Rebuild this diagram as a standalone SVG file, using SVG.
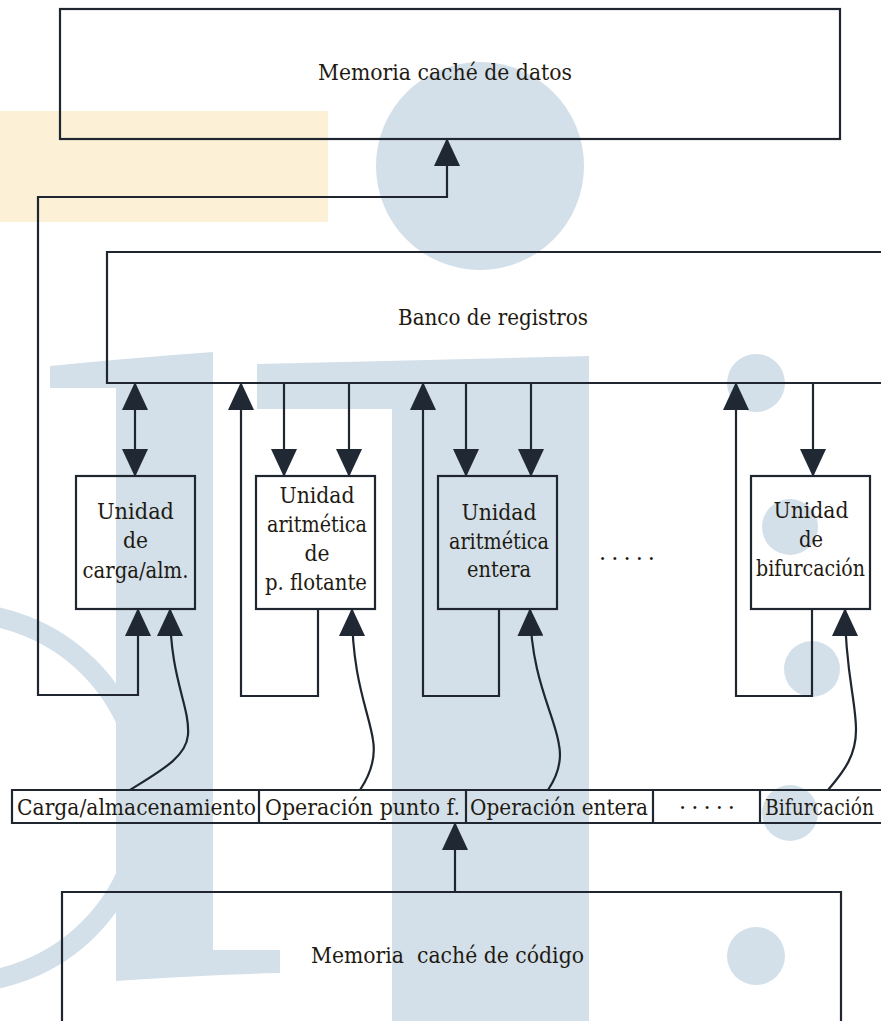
<svg xmlns="http://www.w3.org/2000/svg" width="881" height="1021" viewBox="0 0 881 1021">
  <style>
    .bg-blue { fill: #d3e0ea; }
    .bg-yellow { fill: #fcf1d6; }
    .box { fill: none; stroke: #1f2630; stroke-width: 2.2; }
    .wire { fill: none; stroke: #1f2630; stroke-width: 2.2; }
    .lbl { font-family: "DejaVu Serif", "Liberation Serif", serif; font-size: 22.5px; fill: #1e1a12; }
    .mid { text-anchor: middle; }
  </style>
  <defs>
    <marker id="arrow" markerUnits="userSpaceOnUse" markerWidth="28" markerHeight="26" viewBox="0 0 28 26" refX="27" refY="13" orient="auto-start-reverse">
      <path d="M0,0 L28,13 L0,26 Z" fill="#1f2833"/>
    </marker>
  </defs>

  <!-- background decoration -->
  <g id="background">
    <rect class="bg-yellow" x="0" y="111" width="328" height="111"/>
    <circle class="bg-blue" cx="480" cy="166" r="104"/>
    <circle cx="-42" cy="798" r="185" fill="none" stroke="#d3e0ea" stroke-width="20"/>
    <path class="bg-blue" d="M50,366 Q130,358 213,352 L213,950 L280,950 L280,973 Q200,975 116,981 L116,388 L50,388 Z"/>
    <path class="bg-blue" d="M257,364 Q420,360 589,356 L589,1021 L392,1021 L392,409 L257,409 Z"/>
    <circle class="bg-blue" cx="756" cy="383" r="29"/>
    <circle class="bg-blue" cx="790" cy="527" r="28"/>
    <circle class="bg-blue" cx="812" cy="669" r="28"/>
    <circle class="bg-blue" cx="790" cy="813" r="28"/>
    <circle class="bg-blue" cx="756" cy="956" r="29"/>
  </g>

  <g id="data-cache">
    <rect class="box" x="60" y="9" width="780" height="130"/>
    <text class="lbl mid" x="445" y="80" textLength="254" lengthAdjust="spacingAndGlyphs">Memoria caché de datos</text>
  </g>

  <g id="register-bank">
    <path class="box" d="M881,252 L107,252 L107,383 L881,383"/>
    <text class="lbl mid" x="493" y="325" textLength="190" lengthAdjust="spacingAndGlyphs">Banco de registros</text>
  </g>

  <g id="load-store-unit">
    <rect class="box" x="76" y="476" width="119" height="133"/>
    <text class="lbl mid" x="135.5" y="519" textLength="77" lengthAdjust="spacingAndGlyphs">Unidad</text>
    <text class="lbl mid" x="135.5" y="548" textLength="25" lengthAdjust="spacingAndGlyphs">de</text>
    <text class="lbl mid" x="135.5" y="578" textLength="106" lengthAdjust="spacingAndGlyphs">carga/alm.</text>
  </g>

  <g id="fp-unit">
    <rect class="box" x="256" y="476" width="119" height="133"/>
    <text class="lbl mid" x="317" y="503" textLength="75" lengthAdjust="spacingAndGlyphs">Unidad</text>
    <text class="lbl mid" x="317" y="532" textLength="100" lengthAdjust="spacingAndGlyphs">aritmética</text>
    <text class="lbl mid" x="317" y="561" textLength="25" lengthAdjust="spacingAndGlyphs">de</text>
    <text class="lbl mid" x="316" y="590" textLength="102" lengthAdjust="spacingAndGlyphs">p. flotante</text>
  </g>

  <g id="int-unit">
    <rect class="box" x="438" y="476" width="119" height="133"/>
    <text class="lbl mid" x="499" y="520" textLength="75" lengthAdjust="spacingAndGlyphs">Unidad</text>
    <text class="lbl mid" x="499" y="549" textLength="100" lengthAdjust="spacingAndGlyphs">aritmética</text>
    <text class="lbl mid" x="499" y="577" textLength="64" lengthAdjust="spacingAndGlyphs">entera</text>
  </g>

  <g id="more-units">
    <text class="lbl mid" x="627" y="560" textLength="56" lengthAdjust="spacing">. . . . .</text>
  </g>

  <g id="branch-unit">
    <rect class="box" x="751" y="476" width="119" height="133"/>
    <text class="lbl mid" x="811" y="518" textLength="75" lengthAdjust="spacingAndGlyphs">Unidad</text>
    <text class="lbl mid" x="811" y="547" textLength="24" lengthAdjust="spacingAndGlyphs">de</text>
    <text class="lbl mid" x="810.5" y="576" textLength="109" lengthAdjust="spacingAndGlyphs">bifurcación</text>
  </g>

  <g id="instruction-word">
    <path class="box" d="M881,790 L12,790 L12,823 L881,823"/>
    <path class="box" d="M259,790 V823 M466,790 V823 M653,790 V823 M760,790 V823"/>
    <text class="lbl" x="17" y="815" textLength="239" lengthAdjust="spacingAndGlyphs">Carga/almacenamiento</text>
    <text class="lbl" x="265" y="815" textLength="195" lengthAdjust="spacingAndGlyphs">Operación punto f.</text>
    <text class="lbl" x="470" y="815" textLength="178" lengthAdjust="spacingAndGlyphs">Operación entera</text>
    <text class="lbl mid" x="707" y="809" textLength="56" lengthAdjust="spacing">. . . . .</text>
    <text class="lbl" x="765" y="815" textLength="109" lengthAdjust="spacingAndGlyphs">Bifurcación</text>
  </g>

  <g id="code-cache">
    <path class="box" d="M62,1021 L62,892 L841,892 L841,1021"/>
    <text class="lbl mid" x="447.5" y="963" textLength="273" lengthAdjust="spacingAndGlyphs" xml:space="preserve">Memoria  caché de código</text>
  </g>

  <g id="connectors">
    <!-- load/store unit <-> register bank -->
    <path class="wire" d="M135,383 L135,476" marker-start="url(#arrow)" marker-end="url(#arrow)"/>
    <!-- load/store unit <-> data cache -->
    <path class="wire" d="M138,609 L138,695 L38,695 L38,197 L447,197 L447,139" marker-start="url(#arrow)" marker-end="url(#arrow)"/>
    <!-- register bank -> FP unit operands -->
    <path class="wire" d="M284,383 L284,476" marker-end="url(#arrow)"/>
    <path class="wire" d="M349,383 L349,476" marker-end="url(#arrow)"/>
    <!-- FP unit result -> register bank -->
    <path class="wire" d="M318,609 L318,696 L241,696 L241,383" marker-end="url(#arrow)"/>
    <!-- register bank -> integer unit operands -->
    <path class="wire" d="M466,383 L466,476" marker-end="url(#arrow)"/>
    <path class="wire" d="M531,383 L531,476" marker-end="url(#arrow)"/>
    <!-- integer unit result -> register bank -->
    <path class="wire" d="M499,609 L499,696 L423,696 L423,383" marker-end="url(#arrow)"/>
    <!-- register bank -> branch unit -->
    <path class="wire" d="M813,383 L813,476" marker-end="url(#arrow)"/>
    <!-- branch unit result -> register bank -->
    <path class="wire" d="M812,609 L812,696 L736,696 L736,383" marker-end="url(#arrow)"/>
    <!-- instruction fields -> units -->
    <path class="wire" d="M130,790 C162,770 186,757 188,735 C190,705 170,680 170,609" marker-end="url(#arrow)"/>
    <path class="wire" d="M360,790 C370,775 376,758 373,740 C369,712 352,680 352,609" marker-end="url(#arrow)"/>
    <path class="wire" d="M548,790 C558,775 562,760 559,745 C555,715 531,680 530,609" marker-end="url(#arrow)"/>
    <path class="wire" d="M828,790 C845,770 856,755 856,730 C856,700 845,670 845,609" marker-end="url(#arrow)"/>
    <!-- code cache -> instruction word -->
    <path class="wire" d="M455,892 L455,823" marker-end="url(#arrow)"/>
  </g>
</svg>
